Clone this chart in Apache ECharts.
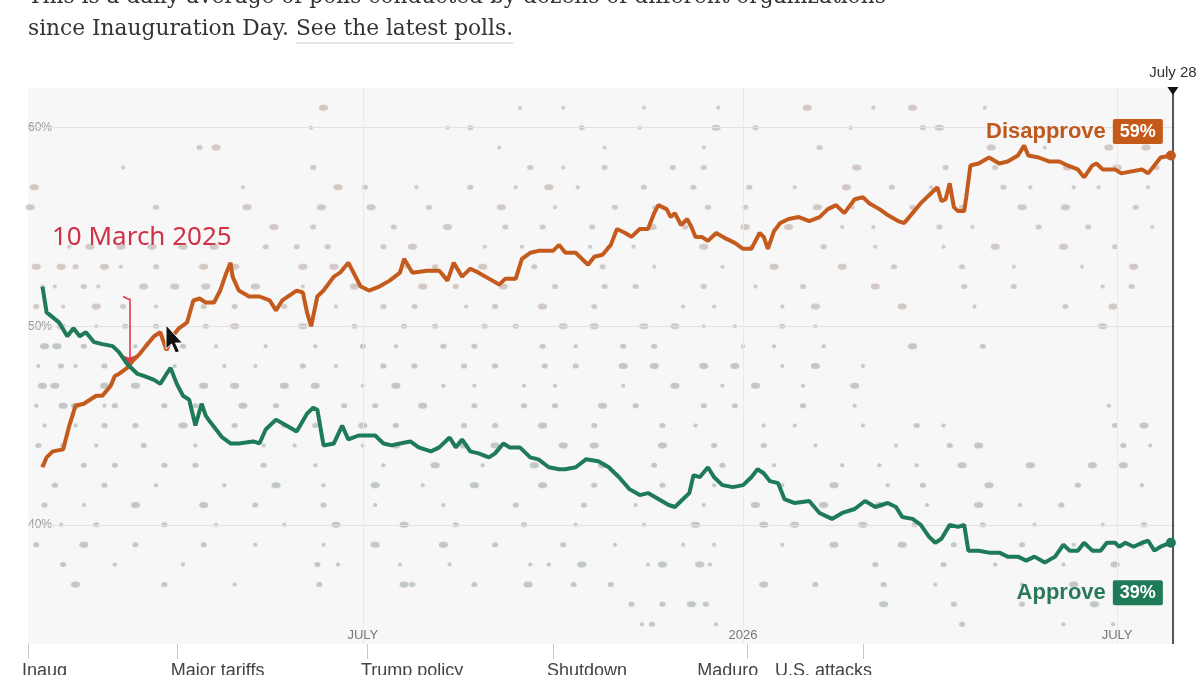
<!DOCTYPE html>
<html lang="en">
<head>
<meta charset="UTF-8">
<title>Trump approval average</title>
<script src="https://cdn.jsdelivr.net/npm/echarts@6.0.0/dist/echarts.min.js"></script>
<style>
    html, body { margin: 0; padding: 0; background: #fff; }
    #main { width: 1200px; height: 675px; }
</style>
</head>
<body>
<div id="main"></div>
<script>
    // x values are days since Inauguration Day (Jan 20, 2025); day 554 = July 28, 2026
    var disDays = [7, 9, 12, 17, 20, 23, 27, 30, 33, 36, 40, 42, 44, 48, 51, 54, 57, 61, 64, 67, 70, 73, 77, 80, 83, 86, 90, 93, 96, 98, 99, 102, 107, 112, 117, 120, 123, 130, 133, 135, 137, 140, 143, 148, 151, 155, 157, 161, 165, 170, 175, 180, 182, 186, 193, 199, 203, 206, 210, 214, 218, 223, 228, 231, 236, 239, 243, 247, 254, 257, 260, 265, 271, 274, 278, 282, 285, 289, 292, 296, 300, 303, 305, 309, 311, 313, 316, 319, 321, 323, 326, 329, 333, 338, 342, 346, 350, 354, 356, 358, 361, 364, 368, 373, 378, 383, 387, 391, 395, 400, 404, 407, 412, 416, 421, 424, 428, 432, 437, 440, 442, 444, 446, 448, 450, 453, 454, 456, 460, 465, 470, 474, 479, 482, 484, 489, 494, 499, 503, 508, 511, 515, 517, 520, 526, 529, 534, 539, 542, 545, 548, 553];
    var disVals = [42.9, 43.4, 43.7, 43.8, 45.0, 46.0, 46.1, 46.3, 46.5, 46.5, 47.0, 47.5, 47.6, 47.9, 48.3, 48.6, 49.0, 49.5, 49.7, 48.8, 49.5, 49.9, 50.2, 51.3, 51.4, 51.2, 51.2, 51.8, 52.7, 53.2, 52.5, 51.8, 51.5, 51.5, 51.3, 50.8, 51.3, 51.8, 51.7, 50.7, 50.0, 51.5, 51.8, 52.5, 52.7, 53.2, 52.8, 52.0, 51.8, 52.0, 52.3, 52.7, 53.4, 52.7, 52.8, 52.8, 52.3, 53.2, 52.5, 52.9, 52.7, 52.4, 52.1, 52.4, 52.4, 53.4, 53.7, 53.8, 53.8, 54.1, 53.7, 53.7, 53.1, 53.5, 53.6, 54.1, 54.9, 54.7, 54.5, 54.9, 54.9, 55.7, 56.1, 55.9, 55.5, 55.7, 55.1, 55.4, 55.0, 54.5, 54.5, 54.3, 54.7, 54.4, 54.2, 53.9, 53.9, 54.7, 54.5, 53.9, 54.8, 55.2, 55.4, 55.5, 55.3, 55.5, 55.9, 56.1, 55.7, 56.4, 56.5, 56.2, 55.9, 55.6, 55.3, 55.2, 55.7, 56.2, 56.7, 57.0, 56.3, 56.4, 57.2, 56.0, 55.8, 55.8, 56.5, 58.1, 58.2, 58.5, 58.2, 58.3, 58.6, 59.1, 58.6, 58.5, 58.3, 58.3, 58.1, 57.9, 57.5, 58.1, 58.2, 57.9, 57.9, 57.7, 57.8, 57.9, 57.7, 58.1, 58.5, 58.6];

    var appDays = [7, 9, 15, 19, 22, 25, 28, 32, 36, 41, 44, 48, 50, 53, 56, 61, 64, 67, 69, 72, 75, 78, 81, 84, 86, 88, 91, 94, 98, 102, 109, 112, 115, 120, 125, 130, 135, 138, 140, 143, 148, 152, 155, 160, 164, 168, 172, 176, 180, 185, 189, 195, 199, 204, 207, 210, 214, 218, 223, 226, 230, 233, 238, 243, 247, 252, 257, 260, 265, 270, 276, 281, 286, 291, 296, 300, 305, 310, 313, 317, 320, 322, 325, 329, 332, 336, 341, 346, 350, 353, 356, 359, 363, 366, 371, 378, 383, 389, 394, 400, 405, 410, 416, 420, 423, 428, 432, 436, 439, 442, 446, 450, 453, 455, 460, 465, 470, 474, 479, 483, 487, 492, 497, 501, 504, 508, 511, 515, 519, 522, 526, 528, 531, 535, 539, 542, 545, 548, 553];
    var appVals = [52.0, 50.7, 50.2, 49.5, 49.9, 49.5, 49.7, 49.2, 49.1, 49.0, 48.7, 48.1, 47.9, 47.6, 47.5, 47.3, 47.1, 47.6, 47.9, 47.1, 46.5, 46.3, 45.0, 46.1, 45.5, 45.2, 44.8, 44.4, 44.1, 44.1, 44.2, 44.1, 44.8, 45.3, 45.0, 44.7, 45.6, 45.9, 45.8, 44.0, 44.1, 45.0, 44.3, 44.5, 44.5, 44.5, 44.1, 44.0, 44.1, 44.2, 43.9, 43.7, 43.9, 44.4, 43.9, 44.3, 43.7, 43.6, 43.4, 43.6, 44.1, 43.9, 43.9, 43.4, 43.3, 42.9, 42.8, 42.8, 42.9, 43.3, 43.2, 42.9, 42.4, 41.8, 41.5, 41.6, 41.3, 41.0, 40.9, 41.3, 41.6, 42.5, 42.4, 42.9, 42.4, 42.0, 41.9, 42.0, 42.4, 42.8, 42.6, 42.2, 42.1, 41.3, 41.1, 41.2, 40.6, 40.3, 40.6, 40.8, 41.2, 40.9, 41.1, 40.9, 40.4, 40.3, 40.0, 39.4, 39.1, 39.3, 40.0, 39.9, 40.0, 38.7, 38.7, 38.6, 38.6, 38.4, 38.4, 38.2, 38.4, 38.1, 38.4, 39.0, 38.7, 38.7, 39.1, 38.7, 38.7, 39.1, 39.1, 38.9, 39.1, 38.9, 39.1, 39.2, 38.7, 38.9, 39.1];

    var monthDays = [162, 346, 527];
    var monthLabels = ['JULY', '2026', 'JULY'];
    var eventDays = [0, 72, 164, 254, 348, 404];
    var eventLabels = ['Inaug', 'Major tariffs', 'Trump policy', 'Shutdown', 'Maduro', 'U.S. attacks'];
    var yTicks = [40, 50, 60];
    var todayDay = 554;
    var todayLabel = 'July 28';
    var noteDay = 49;
    var noteLabel = '10 March 2025';

    // individual polls, one row per whole percentage point
    var dotPct = [61, 60, 59, 58, 57, 56, 55, 54, 53, 52, 51, 50, 49, 48, 47, 46, 45, 44, 43, 42, 41, 40, 39, 38, 37, 36, 35];
    var dotDays = [
        [143, 238, 259, 298, 334, 377, 409, 428, 463],
        [137, 203, 214, 268, 296, 333, 352, 398, 433, 441],
        [83, 91, 228, 279, 327, 383, 466, 492, 523, 541],
        [46, 138, 243, 259, 279, 312, 327, 401, 444, 468, 503, 527, 546],
        [3, 104, 150, 163, 188, 214, 236, 252, 266, 298, 322, 349, 371, 396, 418, 437, 472, 485, 506, 518, 542],
        [1, 62, 106, 142, 166, 194, 229, 255, 284, 303, 329, 347, 382, 399, 428, 452, 481, 502, 536],
        [119, 138, 177, 203, 231, 249, 273, 302, 318, 347, 368, 394, 409, 441, 457, 489, 513, 544],
        [20, 30, 45, 60, 75, 90, 115, 130, 145, 172, 186, 221, 239, 272, 293, 327, 350, 385, 410, 443, 468, 501, 526],
        [4, 16, 23, 37, 45, 62, 85, 100, 133, 148, 183, 197, 220, 245, 278, 303, 336, 361, 394, 419, 452, 477, 510, 535],
        [7, 13, 27, 34, 56, 71, 86, 110, 133, 158, 191, 207, 230, 255, 279, 294, 327, 352, 375, 410, 453, 477, 520, 534],
        [4, 17, 33, 46, 62, 85, 100, 124, 149, 172, 187, 212, 226, 249, 274, 317, 332, 365, 381, 423, 458, 502, 525],
        [16, 33, 47, 62, 86, 100, 133, 158, 182, 197, 221, 236, 259, 274, 298, 313, 327, 342, 365, 381, 520],
        [8, 14, 27, 52, 75, 91, 115, 139, 162, 178, 201, 216, 249, 265, 288, 303, 346, 361, 385, 428, 462],
        [5, 16, 23, 37, 71, 95, 110, 133, 149, 172, 187, 211, 226, 250, 265, 288, 303, 327, 342, 365, 381, 404],
        [7, 13, 37, 52, 85, 100, 124, 139, 162, 178, 201, 216, 240, 255, 288, 313, 336, 352, 375, 400],
        [4, 17, 23, 37, 42, 66, 81, 104, 120, 153, 168, 191, 216, 240, 255, 278, 294, 327, 342, 375, 400, 523],
        [8, 23, 37, 52, 75, 100, 124, 139, 162, 178, 211, 226, 249, 274, 307, 323, 356, 371, 404, 430, 443, 526, 540],
        [5, 17, 33, 56, 81, 114, 129, 162, 178, 211, 226, 259, 274, 307, 332, 356, 381, 420, 446, 460, 530, 543],
        [7, 27, 42, 66, 81, 114, 139, 172, 197, 220, 245, 278, 303, 336, 361, 394, 412, 430, 452, 485, 515, 530],
        [13, 37, 62, 95, 120, 143, 168, 191, 216, 249, 274, 307, 332, 365, 390, 416, 433, 465, 508, 539],
        [8, 27, 52, 85, 110, 143, 168, 201, 236, 269, 294, 327, 352, 385, 412, 435, 460, 480, 500],
        [16, 33, 66, 91, 124, 149, 182, 207, 240, 265, 298, 323, 356, 371, 404, 429, 462, 487, 520, 540],
        [4, 27, 52, 85, 110, 143, 168, 201, 226, 259, 284, 317, 332, 365, 390, 423, 448, 481, 506, 539],
        [17, 42, 75, 140, 150, 180, 204, 243, 252, 268, 300, 307, 325, 330, 410, 443, 468, 501, 526],
        [23, 66, 100, 141, 182, 186, 216, 242, 264, 282, 356, 381, 414, 439, 481, 506, 535],
        [292, 307, 321, 328, 414, 448, 481, 516],
        [297, 302, 333, 452, 501, 525]
    ];

    var orange = '#c45a1c';
    var green = '#1f7a58';
    var narrow = '"Liberation Sans Narrow", "Liberation Sans", sans-serif';
    var sans = '"Liberation Sans", Arial, sans-serif';

    function zip(xs, ys) {
        return xs.map(function (x, i) { return [x, ys[i]]; });
    }

    function pollPoints(lo, hi) {
        var pts = [];
        for (var i = 0; i < dotPct.length; i++) {
            if (dotPct[i] < lo || dotPct[i] > hi) continue;
            for (var j = 0; j < dotDays[i].length; j++) {
                pts.push([dotDays[i][j], dotPct[i]]);
            }
        }
        return pts;
    }

    function dotSize(v) {
        var k = (v[0] + v[1]) % 3;
        return k === 0 ? [9, 6] : (k === 1 ? [6, 5] : [4, 4]);
    }

    var disData = zip(disDays, disVals);
    var appData = zip(appDays, appVals);
    var disLast = disData[disData.length - 1];
    var appLast = appData[appData.length - 1];

    var chart = echarts.init(document.getElementById('main'));

    var option = {
        backgroundColor: '#ffffff',
        animation: false,
        grid: {
            left: 28, right: 25, top: 88, bottom: 31,
            show: true, backgroundColor: '#f7f7f7', borderWidth: 0
        },
        xAxis: [{
            type: 'value', min: 0, max: 555,
            axisLine: {show: false}, axisTick: {show: false}, splitLine: {show: false},
            axisLabel: {
                inside: true, margin: 2, customValues: monthDays,
                formatter: function (v) { return monthLabels[monthDays.indexOf(v)]; },
                color: '#777', fontSize: 13, fontFamily: narrow
            }
        }, {
            type: 'value', min: 0, max: 555, position: 'bottom',
            axisLine: {show: false}, splitLine: {show: false},
            axisTick: {show: true, customValues: eventDays, length: 15, lineStyle: {color: '#c8c8c8'}},
            axisLabel: {show: false}
        }],
        yAxis: {
            type: 'value', min: 34, max: 62,
            axisLine: {show: false}, axisTick: {show: false}, splitLine: {show: false},
            axisLabel: {
                inside: true, margin: 0, customValues: yTicks, formatter: '{value}%',
                color: '#999', fontSize: 12, fontFamily: narrow,
                backgroundColor: '#f7f7f7', padding: [2, 8, 2, 0]
            }
        },
        series: [{
            name: 'Disapprove polls',
            type: 'scatter',
            data: pollPoints(50, 70),
            symbolSize: dotSize,
            silent: true,
            z: 1,
            itemStyle: {color: 'rgba(160,135,125,0.42)', shadowBlur: 2, shadowColor: 'rgba(160,135,125,0.4)'},
            markLine: {
                silent: true,
                symbol: ['none', 'none'],
                label: {show: false},
                lineStyle: {color: '#e2e2e2', width: 1, type: 'solid'},
                data: yTicks.map(function (v) { return {yAxis: v}; })
                    .concat(monthDays.map(function (d) { return {xAxis: d, lineStyle: {color: '#eaeaea'}}; }))
            }
        }, {
            name: 'Approve polls',
            type: 'scatter',
            data: pollPoints(0, 49),
            symbolSize: dotSize,
            silent: true,
            z: 1,
            itemStyle: {color: 'rgba(120,135,128,0.42)', shadowBlur: 2, shadowColor: 'rgba(120,135,128,0.4)'}
        }, {
            name: 'Disapprove',
            type: 'line',
            data: disData,
            showSymbol: false,
            z: 5,
            lineStyle: {color: orange, width: 4},
            endLabel: {
                show: true, distance: 0, offset: [-8, -24], align: 'right', verticalAlign: 'middle',
                formatter: function (p) { return '{n|Disapprove}{b|' + Math.round(p.value[1]) + '%}'; },
                rich: {
                    n: {color: '#c0581e', fontSize: 22, fontWeight: 'bold', fontFamily: sans, padding: [0, 7, 0, 0]},
                    b: {color: '#fff', backgroundColor: '#c4591a', fontSize: 18, fontWeight: 'bold', fontFamily: sans,
                        padding: [4, 7, 3, 7], borderRadius: 2}
                }
            },
            markPoint: {
                silent: true,
                label: {show: false},
                data: [
                    {coord: disLast, symbol: 'circle', symbolSize: 10, itemStyle: {color: orange}},
                    {coord: [todayDay, 62], symbol: 'triangle', symbolRotate: 180, symbolSize: [11, 8],
                        symbolOffset: [0, 3], itemStyle: {color: '#111'}}
                ]
            },
            markLine: {
                silent: true,
                symbol: ['none', 'none'],
                lineStyle: {color: '#222', width: 1.5, type: 'solid'},
                label: {show: true, position: 'end', formatter: todayLabel, color: '#333', fontSize: 15,
                    fontFamily: sans, distance: 8},
                data: [{xAxis: todayDay}]
            }
        }, {
            name: 'Approve',
            type: 'line',
            data: appData,
            showSymbol: false,
            z: 5,
            lineStyle: {color: green, width: 4},
            endLabel: {
                show: true, distance: 0, offset: [-8, 50], align: 'right', verticalAlign: 'middle',
                formatter: function (p) { return '{n|Approve}{b|' + Math.round(p.value[1]) + '%}'; },
                rich: {
                    n: {color: '#2a7a5a', fontSize: 22, fontWeight: 'bold', fontFamily: sans, padding: [0, 7, 0, 0]},
                    b: {color: '#fff', backgroundColor: '#1f7a58', fontSize: 18, fontWeight: 'bold', fontFamily: sans,
                        padding: [4, 7, 3, 7], borderRadius: 2}
                }
            },
            markPoint: {
                silent: true,
                label: {show: false},
                data: [{coord: appLast, symbol: 'circle', symbolSize: 10, itemStyle: {color: green}}]
            }
        }, {
            // red pointer to the crossing on 10 March 2025
            name: 'note',
            type: 'line',
            data: [[noteDay, 51.4]],
            showSymbol: false,
            silent: true,
            z: 10,
            lineStyle: {opacity: 0},
            markLine: {
                silent: true,
                symbol: ['none', 'arrow'],
                symbolSize: 11,
                label: {show: false},
                lineStyle: {color: '#e8374f', width: 1.6, type: 'solid'},
                data: [
                    [{coord: [noteDay, 51.4]}, {coord: [noteDay, 48.0]}],
                    [{coord: [noteDay - 3, 51.5], symbol: 'none'}, {coord: [noteDay, 51.35], symbol: 'none'}]
                ]
            }
        }]
    };

    chart.setOption(option);

    // header text, annotation, cursor and the event row under the plot
    var ctx = document.createElement('canvas').getContext('2d');
    ctx.font = '20px "DejaVu Serif", serif';
    var fit = 20 * 485 / ctx.measureText('since Inauguration Day. See the latest polls.').width;
    var serif = fit.toFixed(2) + 'px "DejaVu Serif", serif';
    ctx.font = serif;
    var w1 = ctx.measureText('since Inauguration Day. ').width;
    var w2 = ctx.measureText('See the latest polls.').width;

    var graphics = [
        {type: 'text', style: {text: 'This is a daily average of polls conducted by dozens of different organizations',
            x: 28, y: -3, font: serif, fill: '#333', verticalAlign: 'middle'}},
        {type: 'text', style: {text: 'since Inauguration Day. ', x: 28, y: 29, font: serif, fill: '#333', verticalAlign: 'middle'}},
        {type: 'text', style: {text: 'See the latest polls.', x: 28 + w1, y: 29, font: serif, fill: '#333', verticalAlign: 'middle'}},
        {type: 'line', shape: {x1: 28 + w1, y1: 43, x2: 28 + w1 + w2, y2: 43}, style: {stroke: '#c8c8c8', lineWidth: 1}},
        {type: 'text', style: {text: noteLabel, x: 52, y: 238, font: '26px "Noto Sans", sans-serif',
            fill: '#cf3148', verticalAlign: 'middle'}},
        {type: 'polygon', z: 100, shape: {points: [[166, 325], [166, 349], [171.5, 344], [175.5, 353], [179.5, 351.5], [175.5, 343], [182.5, 343]]},
            style: {fill: '#111', stroke: '#fff', lineWidth: 1}}
    ];

    var eventAlign = ['left', 'left', 'left', 'left', 'right', 'right'];
    var eventShift = [-6, -6, -6, -6, 11, 9];
    for (var i = 0; i < eventDays.length; i++) {
        var px = chart.convertToPixel({xAxisIndex: 0}, eventDays[i]);
        graphics.push({type: 'text', style: {text: eventLabels[i], x: px + eventShift[i], y: 671,
            font: '18px ' + narrow, fill: '#444', align: eventAlign[i], verticalAlign: 'middle'}});
    }

    chart.setOption({graphic: graphics});
</script>
</body>
</html>
